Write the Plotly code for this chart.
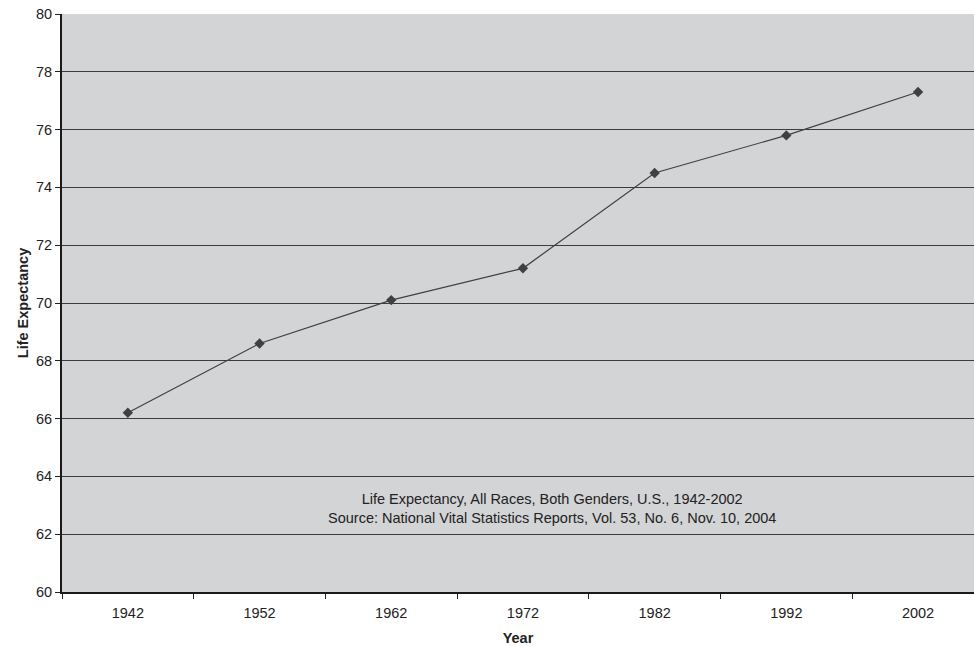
import plotly.graph_objects as go

years = ["1942", "1952", "1962", "1972", "1982", "1992", "2002"]
life_expectancy = [66.2, 68.6, 70.1, 71.2, 74.5, 75.8, 77.3]
y_ticks = list(range(60, 81, 2))

positions = list(range(len(years)))

fig = go.Figure(
    go.Scatter(
        x=positions,
        y=life_expectancy,
        mode="lines+markers",
        line=dict(color="#404040", width=1.2),
        marker=dict(symbol="diamond", size=8, color="#404040"),
        hoverinfo="skip",
    )
)

font = "Liberation Sans, Arial, sans-serif"
FS = 14.5

fig.update_layout(
    width=974,
    height=647,
    margin=dict(l=62, r=0, t=14, b=55),
    paper_bgcolor="white",
    plot_bgcolor="#d3d4d6",
    showlegend=False,
    font=dict(family=font, size=FS, color="#222222"),
)

fig.update_xaxes(
    range=[-0.5, 6.425],
    tickmode="array",
    tickvals=positions,
    ticktext=years,
    ticks="",
    ticklabelstandoff=7,
    showgrid=False,
    zeroline=False,
    showline=True,
    linecolor="#1a1a1a",
    linewidth=2,
    tickfont=dict(size=FS, color="#222222"),
    minor=dict(ticks="outside", tick0=-0.5, dtick=1, ticklen=5,
               tickcolor="#222222", tickwidth=1, showgrid=False),
    title=dict(text="<b>Year</b>", font=dict(size=FS, color="#222222"), standoff=12),
)

fig.update_yaxes(
    range=[60, 80],
    tickmode="array",
    tickvals=y_ticks,
    ticks="outside",
    ticklen=5,
    tickcolor="#222222",
    showgrid=True,
    gridcolor="#3c3c3c",
    gridwidth=1,
    zeroline=False,
    showline=True,
    linecolor="#1a1a1a",
    linewidth=2,
    tickfont=dict(size=FS, color="#222222"),
    title=dict(text="<b>Life Expectancy</b>", font=dict(size=FS, color="#222222"), standoff=4),
)

# chart note, centred inside the plotting area (pixel position -> paper coordinates)
note_x_px, note_y_px = 552, 508.5
fig.add_annotation(
    x=(note_x_px - 62) / 912, xref="paper",
    y=(592 - note_y_px) / 578, yref="paper",
    xanchor="center", yanchor="middle",
    text="Life Expectancy, All Races, Both Genders, U.S., 1942-2002<br>"
         "Source: National Vital Statistics Reports, Vol. 53, No. 6, Nov. 10, 2004",
    showarrow=False,
    font=dict(size=FS, color="#222222"),
    align="center",
)

fig.write_html("out.html")
